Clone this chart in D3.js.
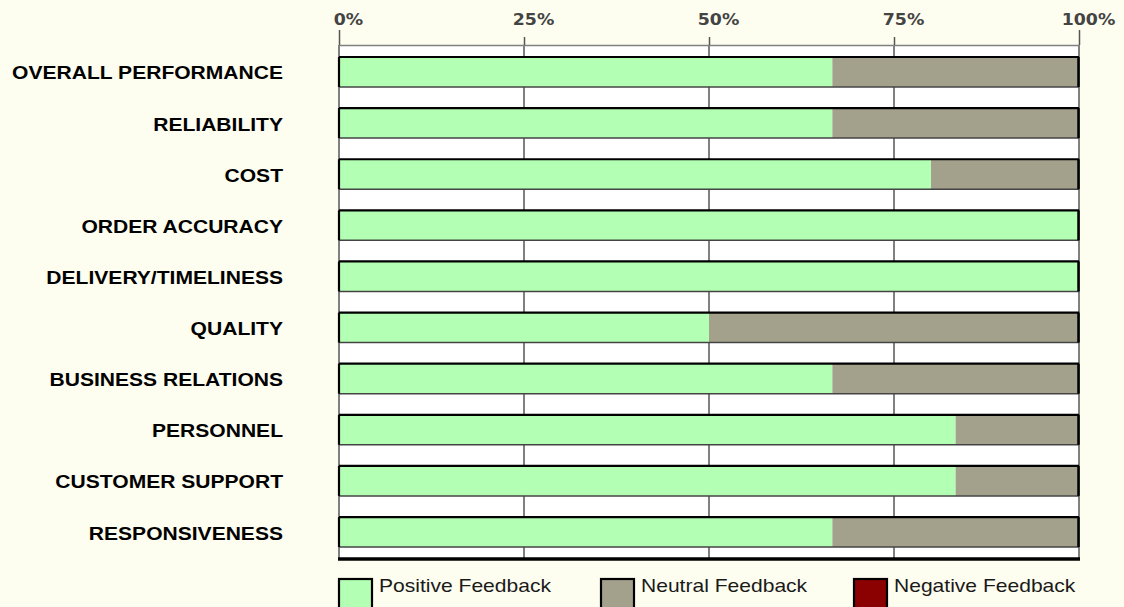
<!DOCTYPE html>
<html>
<head>
<meta charset="utf-8">
<script src="https://cdn.jsdelivr.net/npm/d3@7"></script>
<style>
  html, body { margin: 0; padding: 0; background: #fefef0; }
  svg { display: block; }
</style>
</head>
<body>
<svg id="chart" width="1124" height="607"></svg>
<script>
const categories = ["OVERALL PERFORMANCE","RELIABILITY","COST","ORDER ACCURACY","DELIVERY/TIMELINESS","QUALITY","BUSINESS RELATIONS","PERSONNEL","CUSTOMER SUPPORT","RESPONSIVENESS"];
const positive = [66.67, 66.67, 80, 100, 100, 50, 66.67, 83.33, 83.33, 66.67];
const neutral  = [33.33, 33.33, 20, 0, 0, 50, 33.33, 16.67, 16.67, 33.33];
const negative = [0, 0, 0, 0, 0, 0, 0, 0, 0, 0];
const tickValues = [0, 25, 50, 75, 100];
const tickLabels = ["0%", "25%", "50%", "75%", "100%"];
const seriesNames = ["Positive Feedback", "Neutral Feedback", "Negative Feedback"];
const seriesColors = ["#b3ffb3", "#a3a18b", "#8b0000"];

(function () {
const svg = d3.select("#chart");
const W = 1124, H = 607;
const SX = 1.17;

svg.append("rect").attr("width", W).attr("height", H).attr("fill", "#fefef0");

const x = d3.scaleLinear().domain([0, 100]).range([339, 1079]);
const y = d3.scaleBand().domain(categories).range([46, 558]).paddingInner(0.414).paddingOuter(0.215);

const plotTop = 45, plotBottom = 559;

// plot background
svg.append("rect").attr("x", 338).attr("y", plotTop).attr("width", 742).attr("height", plotBottom - plotTop).attr("fill", "#ffffff");

// gridlines
svg.append("g").selectAll("line").data(tickValues).join("line")
  .attr("x1", d => x(d)).attr("x2", d => x(d))
  .attr("y1", plotTop).attr("y2", plotBottom)
  .attr("stroke", "#808080").attr("stroke-width", 2);

// top axis
const axis = d3.axisTop(x).tickValues(tickValues).tickFormat((d, i) => tickLabels[i]).tickSize(0).tickPadding(0);
const gAxis = svg.append("g").attr("transform", `translate(0,${plotTop})`).call(axis);
gAxis.select(".domain").attr("stroke", "#808080").attr("stroke-width", 1.5);
gAxis.selectAll(".tick line").remove();
gAxis.selectAll(".tick").append("line")
  .attr("x1", 0).attr("x2", 0)
  .attr("y1", (d) => (d === 0 || d === 100) ? -15 : -8).attr("y2", 0)
  .attr("stroke", "#555").attr("stroke-width", 1.5);
gAxis.selectAll(".tick text")
  .attr("text-anchor", "middle")
  .attr("transform", "translate(9,-20) scale(1.12,1)")
  .attr("y", 0).attr("dy", 0)
  .attr("font-family", "DejaVu Sans").attr("font-weight", "bold").attr("font-size", 15.5)
  .attr("fill", "#444");

// stacked bars
const rows = categories.map((c, i) => ({ c, vals: [positive[i], neutral[i], negative[i]] }));
const gBars = svg.append("g");
rows.forEach(r => {
  let acc = 0;
  const g = gBars.append("g");
  r.vals.forEach((v, k) => {
    if (v > 0) {
      g.append("rect")
        .attr("x", x(acc)).attr("width", x(acc + v) - x(acc))
        .attr("y", y(r.c)).attr("height", y.bandwidth())
        .attr("fill", seriesColors[k]);
    }
    acc += v;
  });
  const y0 = y(r.c), y1 = y(r.c) + y.bandwidth();
  g.append("line").attr("x1", x(0)).attr("x2", x(100)).attr("y1", y0).attr("y2", y0).attr("stroke", "#000").attr("stroke-width", 2.2);
  g.append("line").attr("x1", x(0)).attr("x2", x(100)).attr("y1", y1).attr("y2", y1).attr("stroke", "#444").attr("stroke-width", 1.5);
  g.append("line").attr("x1", x(0)).attr("x2", x(0)).attr("y1", y0).attr("y2", y1).attr("stroke", "#000").attr("stroke-width", 2.2);
  g.append("line").attr("x1", x(100) - 0.5).attr("x2", x(100) - 0.5).attr("y1", y0).attr("y2", y1).attr("stroke", "#000").attr("stroke-width", 2.5);
});

// bottom line
svg.append("line").attr("x1", 338).attr("x2", 1080).attr("y1", plotBottom).attr("y2", plotBottom).attr("stroke", "#000").attr("stroke-width", 3.5);

// category labels
svg.append("g").selectAll("text").data(categories).join("text")
  .attr("transform", d => `translate(283,${y(d) + y.bandwidth() / 2 + 7.5}) scale(${SX},1)`)
  .attr("text-anchor", "end")
  .attr("font-family", "Liberation Sans, Arial, sans-serif").attr("font-weight", "bold").attr("font-size", 18)
  .attr("fill", "#000")
  .text(d => d);

// legend
const legendX = [338, 600, 853];
const lg = svg.append("g").selectAll("g").data(seriesNames).join("g")
  .attr("transform", (d, i) => `translate(${legendX[i]},578)`);
lg.append("rect").attr("x", 1).attr("y", 1).attr("width", 33).attr("height", 32)
  .attr("fill", (d, i) => seriesColors[i]).attr("stroke", "#000").attr("stroke-width", 2.2);
lg.append("text")
  .attr("transform", `translate(41,14) scale(${SX},1)`)
  .attr("font-family", "Liberation Sans, Arial, sans-serif").attr("font-size", 18)
  .attr("fill", "#1a1a1a")
  .text(d => d);
})();
</script>
</body>
</html>
